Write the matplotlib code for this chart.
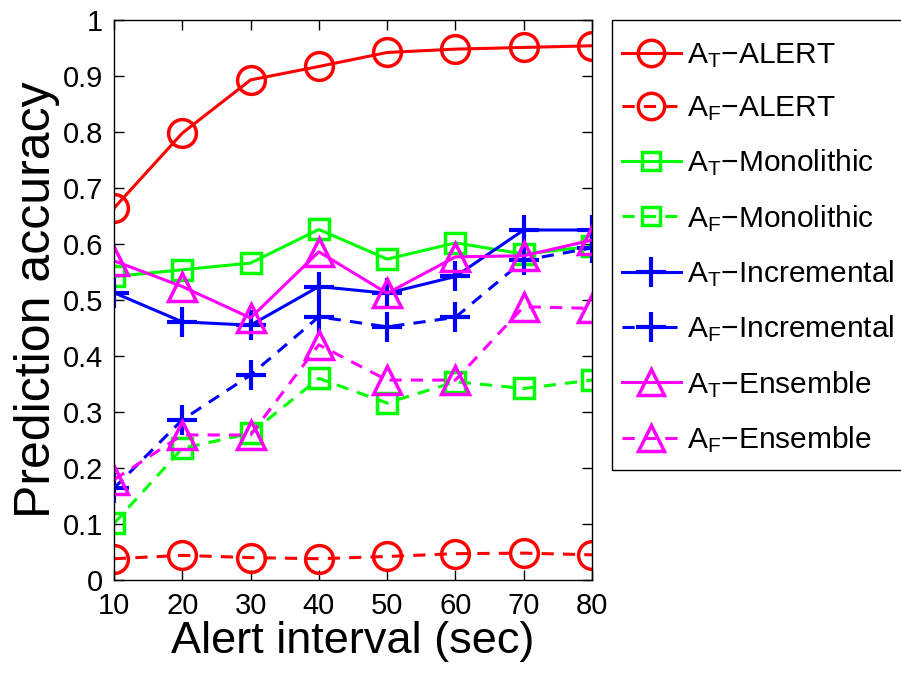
import matplotlib
matplotlib.use("Agg")
import matplotlib.pyplot as plt
from matplotlib.patches import Rectangle

plt.rcParams['font.family'] = ['Liberation Sans', 'DejaVu Sans']
plt.rcParams['mathtext.fontset'] = 'custom'
plt.rcParams['mathtext.rm'] = 'Liberation Sans'
plt.rcParams['mathtext.it'] = 'Liberation Sans'

intervals = [10, 20, 30, 40, 50, 60, 70, 80]
at_alert = [0.664, 0.798, 0.893, 0.917, 0.942, 0.948, 0.951, 0.954]
af_alert = [0.038, 0.044, 0.040, 0.038, 0.042, 0.047, 0.048, 0.045]
at_mono = [0.542, 0.554, 0.566, 0.626, 0.573, 0.602, 0.582, 0.596]
af_mono = [0.101, 0.235, 0.262, 0.360, 0.316, 0.354, 0.342, 0.357]
at_incr = [0.513, 0.461, 0.455, 0.524, 0.512, 0.542, 0.625, 0.625]
af_incr = [0.164, 0.286, 0.366, 0.470, 0.452, 0.469, 0.571, 0.593]
at_ens = [0.570, 0.524, 0.468, 0.586, 0.512, 0.577, 0.579, 0.607]
af_ens = [0.179, 0.259, 0.259, 0.420, 0.357, 0.357, 0.488, 0.485]

series = [
    (at_alert, r'A$_\mathrm{T}$$-$ALERT', '#ff0000', '-', 'o'),
    (af_alert, r'A$_\mathrm{F}$$-$ALERT', '#ff0000', '--', 'o'),
    (at_mono, r'A$_\mathrm{T}$$-$Monolithic', '#00ff00', '-', 's'),
    (af_mono, r'A$_\mathrm{F}$$-$Monolithic', '#00ff00', '--', 's'),
    (at_incr, r'A$_\mathrm{T}$$-$Incremental', '#0000ff', '-', '+'),
    (af_incr, r'A$_\mathrm{F}$$-$Incremental', '#0000ff', '--', '+'),
    (at_ens, r'A$_\mathrm{T}$$-$Ensemble', '#ff00ff', '-', '^'),
    (af_ens, r'A$_\mathrm{F}$$-$Ensemble', '#ff00ff', '--', '^'),
]
msizes = {'o': 20, 's': 14, '+': 22, '^': 20}

fig = plt.figure(figsize=(9.01, 6.74), dpi=100)
ax = fig.add_axes([114/901, 94/674, (592-114)/901, (580-20)/674])

handles = []
for vals, label, color, ls, mk in series:
    h, = ax.plot(intervals, vals, color=color, linestyle=ls, linewidth=2.2,
                 marker=mk, markersize=msizes[mk], markerfacecolor='none',
                 markeredgecolor=color, markeredgewidth=2.5 if mk != '+' else 3,
                 dashes=(4, 3) if ls == '--' else (None, None), label=label)
    handles.append(h)

ax.set_xlim(10, 80)
ax.set_ylim(0, 1)
ax.set_xticks(intervals)
ax.set_xticklabels([str(v) for v in intervals])
yt = [i/10 for i in range(11)]
ax.set_yticks(yt)
ax.set_yticklabels(['0'] + ['%.1f' % v for v in yt[1:-1]] + ['1'])
ax.tick_params(direction='in', top=True, right=True, labelsize=21, length=7, width=1)
ax.tick_params(axis='x', pad=9)
ax.tick_params(axis='y', pad=8)
for s in ax.spines.values():
    s.set_linewidth(1)
ax.set_xlabel('Alert interval (sec)', fontsize=32.5, labelpad=0)
ax.set_ylabel('Prediction accuracy', fontsize=36, labelpad=2)

leg = fig.legend(handles=handles, loc='upper left',
                 bbox_to_anchor=(622/901, (674-41)/674), bbox_transform=fig.transFigure,
                 fontsize=21.5, frameon=False, borderpad=0,
                 labelspacing=0.82, handlelength=1.97, handletextpad=0.2,
                 borderaxespad=0, markerscale=0.95)

frame = Rectangle((612/901, (674-470)/674), (915-612)/901, 450/674,
                  transform=fig.transFigure, fill=False, edgecolor='black',
                  linewidth=1, clip_on=False)
fig.add_artist(frame)

fig.savefig('out.png', dpi=100)
